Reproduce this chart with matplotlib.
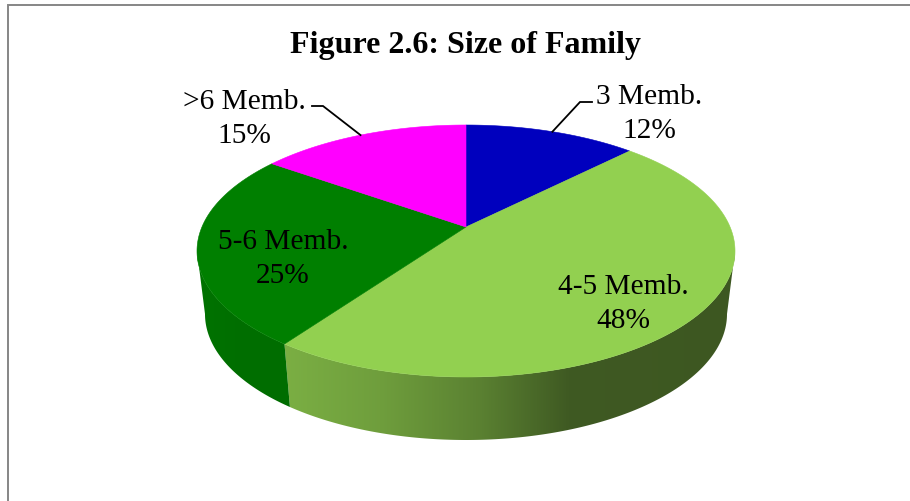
import numpy as np
import matplotlib
matplotlib.use("Agg")
import matplotlib.pyplot as plt
from matplotlib.patches import Polygon

categories = ["3 Memb.", "4-5 Memb.", "5-6 Memb.", ">6 Memb."]
percent = [12, 48, 25, 15]
colors = ["#0000BE", "#92D050", "#007F00", "#FF00FF"]

plt.rcParams["font.family"] = ["Liberation Serif", "DejaVu Serif"]
fig = plt.figure(figsize=(9.10, 5.01), dpi=100)
ax = fig.add_axes([0, 0, 1, 1])

# ellipse geometry of the tilted pie; the perspective moves the apex above the ellipse centre
TOP = (466, 251, 269, 126)
BOT = (466, 314, 261, 126)
APEX = (466, 227)


def warp(t):
    # perspective shift of the apparent angles
    r = np.radians(t)
    return t - 9 * np.sin(r) + 1.2 * np.sin(r / 2)


def pt(t, e=TOP):
    r = np.radians(t)
    return np.array([e[0] + e[2] * np.sin(r), e[1] - e[3] * np.cos(r)])


edges = np.concatenate([[0], np.cumsum(percent)]) * 3.6
starts, ends = warp(edges[:-1]), warp(edges[1:])

# side walls, front half only: a horizontal shading clipped to the wall outline
shade_x = {1: ([285, 380, 480, 570, 735], [0.84, 0.76, 0.62, 0.43, 0.42]),
           2: ([200, 240, 290], [0.90, 0.87, 0.86])}
xgrid = np.arange(190, 745)
for i in range(len(percent)):
    a, b = max(starts[i], 90), min(ends[i], 270)
    if b <= a:
        continue
    ts = np.linspace(a, b, 300)
    outline = [pt(t) for t in ts] + [pt(t, BOT) for t in ts[::-1]]
    base = np.array(matplotlib.colors.to_rgb(colors[i]))
    k = np.interp(xgrid, *shade_x[i])
    img = (k[:, None] * base)[None, :, :]
    patch = Polygon(outline, closed=True, transform=ax.transData, fc="none", ec="none")
    ax.add_patch(patch)
    im = ax.imshow(img, extent=(xgrid[0], xgrid[-1], 460, 240), aspect="auto",
                   interpolation="bilinear", zorder=2)
    im.set_clip_path(patch)

ax.set_xlim(0, 910)
ax.set_ylim(501, 0)
ax.axis("off")

# top faces
for i in range(len(percent)):
    ts = np.linspace(starts[i], ends[i], 200)
    poly = [np.array(APEX)] + [pt(t) for t in ts]
    ax.add_patch(Polygon(poly, closed=True, fc=colors[i], ec=colors[i], lw=0.4, zorder=3))

# labels
label_pos = [(649, 114), (623, 304), (283, 259), (244, 119)]
for name, p, (x, y) in zip(categories, percent, label_pos):
    ax.text(x, y, f"{name}\n{p}%", ha="center", va="center", fontsize=21.2,
            color="black", linespacing=1.38, zorder=5)

# leader lines to the middle of the two upper slices
for i, (x0, x1, y) in {0: (592, 580, 102), 3: (312, 323, 106)}.items():
    tip = pt((starts[i] + ends[i]) / 2)
    ax.plot([x0, x1, tip[0]], [y, y, tip[1]], color="black", lw=1.3, zorder=4,
            solid_joinstyle="miter")

ax.text(465, 45, "Figure 2.6: Size of Family", ha="center", va="center",
        fontsize=23, fontweight="bold", color="black", zorder=5)

# chart frame: only the left and top borders are in view
ax.plot([8, 8, 910], [501, 4.5, 4.5], color="#868686", lw=1.4, zorder=1,
        solid_joinstyle="miter")

fig.savefig("out.png", dpi=100, facecolor="white")
